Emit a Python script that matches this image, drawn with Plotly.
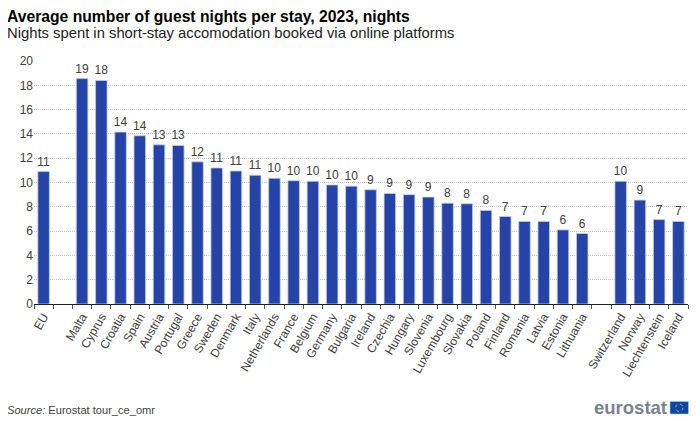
import plotly.graph_objects as go

categories = ["EU", " ", "Malta", "Cyprus", "Croatia", "Spain", "Austria", "Portugal", "Greece", "Sweden",
              "Denmark", "Italy", "Netherlands", "France", "Belgium", "Germany", "Bulgaria", "Ireland",
              "Czechia", "Hungary", "Slovenia", "Luxembourg", "Slovakia", "Poland", "Finland", "Romania",
              "Latvia", "Estonia", "Lithuania", "  ", "Switzerland", "Norway", "Liechtenstein", "Iceland"]
values = [10.9, None, 18.55, 18.4, 14.15, 13.85, 13.1, 13.05, 11.7, 11.2,
          10.95, 10.6, 10.35, 10.15, 10.1, 9.8, 9.7, 9.4,
          9.1, 9.0, 8.8, 8.3, 8.25, 7.7, 7.2, 6.8,
          6.8, 6.1, 5.8, None, 10.1, 8.55, 6.95, 6.8]
labels = [None if v is None else f"{v:.0f}" for v in values]
y_ticks = list(range(0, 21, 2))

FONT = "Liberation Sans"
OFF = 8  # page margin around the figure
W, H = 700 - OFF, 421 - OFF
L, R, T, B = 34 - OFF, 688 - OFF, 61 - OFF, 304 - OFF


def px(x):
    return (x - OFF - L) / (R - L)


def py(y):
    return (B - (y - OFF)) / (B - T)


fig = go.Figure(go.Bar(
    x=categories, y=values, text=labels, textposition="outside", cliponaxis=False, constraintext="none",
    textfont=dict(family=FONT, size=12, color="#404040"),
    marker=dict(color="#2644A7", line=dict(color="#C3CCEA", width=0.8)),
    hoverinfo="x+y",
))
fig.update_layout(
    width=W, height=H, autosize=False, showlegend=False, bargap=0.4,
    paper_bgcolor="white", plot_bgcolor="white",
    margin=dict(l=L, r=W - R, t=T, b=H - B),
    font=dict(family=FONT, size=12, color="#404040"),
    xaxis=dict(type="category", categoryorder="array", categoryarray=categories, tickmode="array",
               tickvals=categories, ticktext=categories, tickangle=-60, tickson="boundaries",
               ticks="outside", ticklen=4, tickcolor="#555555", tickwidth=1,
               showline=True, linecolor="#222222", linewidth=1, showgrid=False,
               range=[-0.5, len(categories) - 0.5],
               tickfont=dict(family=FONT, size=12, color="#404040")),
    yaxis=dict(range=[0, 20], tickmode="array", tickvals=y_ticks, showline=False, ticks="",
               gridcolor="#C8C8C8", gridwidth=1, griddash="1px,1px", zeroline=False,
               tickfont=dict(family=FONT, size=12, color="#404040")),
    annotations=[
        dict(text="<b>Average number of guest nights per stay, 2023, nights</b>", xref="paper", yref="paper",
             x=px(4.5), y=py(16), xanchor="left", yanchor="middle", showarrow=False,
             font=dict(family=FONT, size=15.7, color="black")),
        dict(text="Nights spent in short-stay accomodation booked via online platforms", xref="paper", yref="paper",
             x=px(4.5), y=py(33), xanchor="left", yanchor="middle", showarrow=False,
             font=dict(family=FONT, size=14.8, color="#222222")),
        dict(text="<i>Source:</i> Eurostat tour_ce_omr", xref="paper", yref="paper",
             x=px(5), y=py(410), xanchor="left", yanchor="middle", showarrow=False,
             font=dict(family=FONT, size=11.1, color="#404040")),
        dict(text="<b>eurostat</b>", xref="paper", yref="paper",
             x=px(669), y=py(407), xanchor="right", yanchor="middle", showarrow=False,
             font=dict(family=FONT, size=18.5, color="#7A8290")),
    ],
    shapes=[
        dict(type="rect", xref="paper", yref="paper",
             x0=px(670), x1=px(688.5), y0=py(414), y1=py(401.5),
             fillcolor="#0E47A1", line=dict(color="#B9C6E6", width=0.6)),
        dict(type="circle", xref="paper", yref="paper",
             x0=px(675.5), x1=px(683), y0=py(411.5), y1=py(404),
             line=dict(color="#D9C24A", width=0.8, dash="dot")),
    ],
)
fig.write_html("out.html")
